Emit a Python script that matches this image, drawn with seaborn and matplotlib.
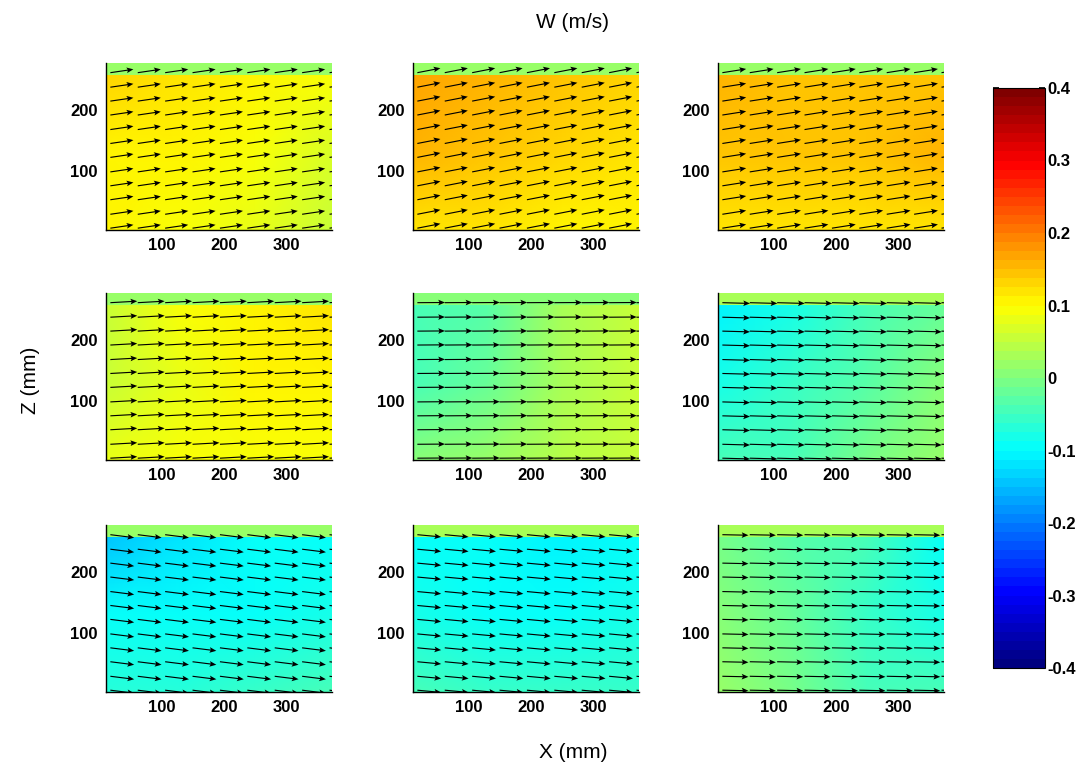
import numpy as np
import matplotlib
matplotlib.use('Agg')
import matplotlib.pyplot as plt
from matplotlib.colors import LinearSegmentedColormap
import seaborn as sns

# ============== 数据 ==============
# 色场网格 (mm)：X 方向 4 列，Z 方向 3 行（不含顶部条带）
field_x = [11, 130, 250, 374]
field_z = [2, 130, 258]
strip_z = [258, 278]

# 各子图 W (m/s)，行顺序：底 -> 顶，列顺序：左 -> 右
w_p1 = [[0.11, 0.09, 0.08, 0.06], [0.11, 0.10, 0.09, 0.07], [0.13, 0.12, 0.10, 0.09]]
w_p2 = [[0.12, 0.12, 0.11, 0.11], [0.15, 0.14, 0.13, 0.12], [0.17, 0.15, 0.14, 0.13]]
w_p3 = [[0.12, 0.12, 0.12, 0.12], [0.14, 0.14, 0.14, 0.15], [0.15, 0.14, 0.14, 0.14]]
w_p4 = [[0.08, 0.09, 0.09, 0.09], [0.05, 0.08, 0.10, 0.11], [0.05, 0.09, 0.11, 0.12]]
w_p5 = [[0.01, 0.02, 0.04, 0.05], [-0.04, -0.02, 0.03, 0.05], [-0.05, -0.03, 0.03, 0.05]]
w_p6 = [[-0.05, -0.04, -0.01, 0.02], [-0.08, -0.06, -0.03, 0.01], [-0.11, -0.08, -0.05, -0.02]]
w_p7 = [[-0.07, -0.07, -0.06, -0.04], [-0.10, -0.10, -0.09, -0.08], [-0.14, -0.12, -0.10, -0.09]]
w_p8 = [[-0.05, -0.06, -0.06, -0.06], [-0.08, -0.09, -0.09, -0.08], [-0.09, -0.10, -0.11, -0.10]]
w_p9 = [[0.02, -0.01, -0.04, -0.05], [0.00, -0.02, -0.06, -0.08], [-0.01, -0.03, -0.05, -0.09]]
fields = [w_p1, w_p2, w_p3, w_p4, w_p5, w_p6, w_p7, w_p8, w_p9]

# 顶部条带 W
strip_w = [0.015, 0.015, 0.015, 0.02, 0.0, 0.03, 0.02, 0.03, 0.03]

# 矢量网格 (mm)
arrow_x = [18, 62, 106, 150, 194, 238, 282, 326, 370]
arrow_z = [5, 28, 52, 75, 98, 122, 145, 168, 192, 215, 238, 262]
# 各子图矢量 (U, W) (m/s)
arrow_u = [0.60, 0.60, 0.62, 0.70, 0.72, 0.72, 0.62, 0.62, 0.68]
arrow_w = [0.09, 0.12, 0.10, 0.04, 0.005, -0.02, -0.08, -0.06, -0.015]

x_ticks = [100, 200, 300]
z_ticks = [100, 200]
cbar_ticks = [-0.4, -0.3, -0.2, -0.1, 0, 0.1, 0.2, 0.3, 0.4]

# ============== 绘图 ==============
sns.set_theme(style='white')
plt.rcParams['font.family'] = ['Liberation Sans', 'DejaVu Sans']
plt.rcParams['text.color'] = 'black'
plt.rcParams['xtick.color'] = 'black'
plt.rcParams['ytick.color'] = 'black'

W, H = 1078, 774
fig = plt.figure(figsize=(W / 100, H / 100), dpi=100)

# MATLAB 风格 jet（64 级）
jet_ml = LinearSegmentedColormap.from_list('jet_ml', [
    (0.0, (0, 0, 0.5)), (0.125, (0, 0, 1)), (0.375, (0, 1, 1)),
    (0.625, (1, 1, 0)), (0.875, (1, 0, 0)), (1.0, (0.5, 0, 0))], N=64)
cmap = jet_ml
vmin, vmax = -0.4, 0.4

col_left = [106, 413, 718]
row_top = [63, 293, 525]
pw, ph = 226, 167

XX, ZZ = np.meshgrid(field_x, field_z)
AX, AZ = np.meshgrid(arrow_x, arrow_z)

mesh = None
for i in range(9):
    r, c = divmod(i, 3)
    ax = fig.add_axes([col_left[c] / W, 1 - (row_top[r] + ph) / H, pw / W, ph / H])
    mesh = ax.pcolormesh(XX, ZZ, np.array(fields[i]), cmap=cmap, vmin=vmin, vmax=vmax,
                         shading='gouraud')
    ax.pcolormesh(field_x[::3], strip_z, np.array([[strip_w[i]]]), cmap=cmap,
                  vmin=vmin, vmax=vmax, shading='flat')
    U = np.full(AX.shape, arrow_u[i])
    V = np.full(AX.shape, arrow_w[i])
    ax.quiver(AX, AZ, U, V, angles='xy', scale_units='xy', scale=0.6 / 37,
              color='black', width=0.005, headwidth=5, headlength=6,
              headaxislength=5)
    ax.set_xlim(11, 374)
    ax.set_ylim(2, 278)
    ax.set_xticks(x_ticks)
    ax.set_yticks(z_ticks)
    ax.tick_params(labelsize=12, direction='in', length=3, pad=6,
                   bottom=True, left=True)
    for lab in ax.get_xticklabels() + ax.get_yticklabels():
        lab.set_fontweight('bold')
    for s in ['top', 'right']:
        ax.spines[s].set_visible(False)
    for s in ['left', 'bottom']:
        ax.spines[s].set_color('black')
        ax.spines[s].set_linewidth(1.0)

# 色标
cax = fig.add_axes([993 / W, 1 - 668 / H, 52 / W, 580 / H])
cb = fig.colorbar(mesh, cax=cax, ticks=cbar_ticks)
cb.ax.set_yticklabels(['%g' % t for t in cbar_ticks])
cb.ax.tick_params(labelsize=12, direction='in', length=4, left=True, right=True, pad=2)
for lab in cb.ax.get_yticklabels():
    lab.set_fontweight('bold')
cb.outline.set_edgecolor('black')
cb.outline.set_linewidth(0.8)

fig.text(573 / W, 1 - 22 / H, 'W (m/s)', ha='center', va='center', fontsize=15)
fig.text(573 / W, 1 - 752 / H, 'X (mm)', ha='center', va='center', fontsize=15)
fig.text(30 / W, 1 - 380 / H, 'Z (mm)', ha='center', va='center', fontsize=15,
         rotation=90)

plt.savefig('out.png', dpi=100)
plt.close()
